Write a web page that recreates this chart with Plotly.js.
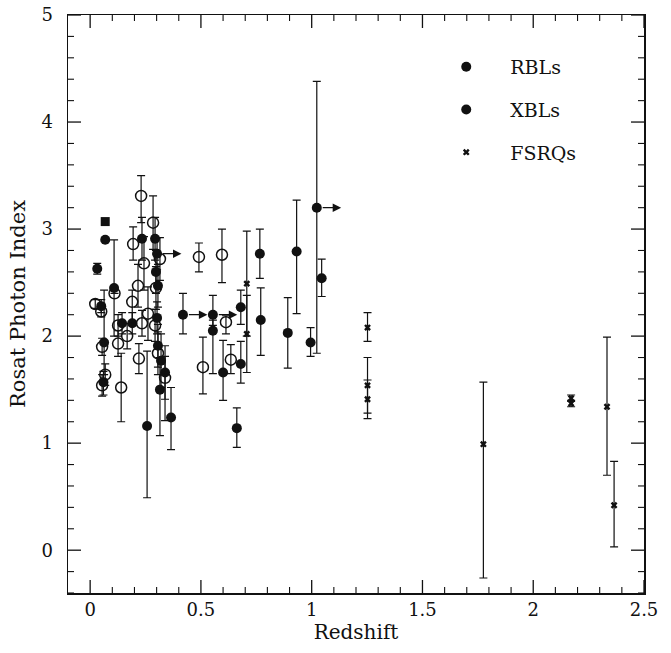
<!DOCTYPE html>
<html>
<head>
<meta charset="utf-8">
<script src="https://cdn.plot.ly/plotly-3.0.1.min.js"></script>
<style>html,body{margin:0;padding:0;background:#fff;}#chart{width:671px;height:653px;}</style>
</head>
<body>
<div id="chart"></div>
<script>
// Filled circles
const filledZ   = [0.032,0.068,0.050,0.063,0.060,0.108,0.144,0.190,0.234,0.257,0.293,0.297,0.302,0.306,0.302,0.306,0.320,0.338,0.315,0.365,0.419,0.554,0.554,0.600,0.662,0.680,0.680,0.766,0.770,0.892,0.932,0.995,1.023,1.045];
const filledY   = [2.63,2.90,2.28,1.94,1.57,2.45,2.12,2.12,2.91,1.16,2.91,2.60,2.77,2.47,2.17,1.91,1.77,1.66,1.50,1.24,2.20,2.20,2.05,1.66,1.14,2.27,1.74,2.77,2.15,2.03,2.79,1.94,3.20,2.54];
const filledEp  = [0.05,null,0.06,0.49,0.10,0.45,0.10,0.10,0.20,0.70,0.20,0.20,0.15,0.20,0.15,0.20,0.25,0.25,0.30,0.28,0.20,0.18,0.10,0.30,0.19,0.16,0.21,0.23,0.30,0.33,0.48,0.14,1.18,0.18];
const filledEm  = [0.05,null,0.06,0.30,0.12,0.45,0.10,0.10,0.20,0.67,0.20,0.20,0.15,0.20,0.15,0.20,0.25,0.45,0.43,0.30,0.18,0.10,0.40,0.26,0.18,0.16,0.18,0.23,0.33,0.33,0.58,0.13,1.36,0.17];
const filledLim = [0,0,0,0,0,0,0,0,0,0,0,0,1,0,0,0,0,0,0,0,1,1,0,0,0,0,0,0,0,0,0,0,1,0];

// Open circles
const openZ  = [0.023,0.050,0.054,0.068,0.054,0.110,0.126,0.126,0.140,0.167,0.190,0.194,0.216,0.220,0.230,0.234,0.243,0.261,0.284,0.293,0.297,0.315,0.306,0.338,0.491,0.509,0.595,0.613,0.635];
const openY  = [2.30,2.23,1.90,1.64,1.54,2.40,2.10,1.93,1.52,2.00,2.32,2.86,2.47,1.79,3.31,2.12,2.68,2.21,3.06,2.10,2.45,2.72,1.84,1.61,2.74,1.71,2.76,2.13,1.78];
const openEp = [0.04,0.05,0.08,0.10,0.10,null,0.10,0.12,0.32,0.12,0.11,0.16,0.20,0.14,0.19,0.12,0.25,0.25,0.25,0.15,0.20,0.20,0.20,0.20,0.13,0.28,0.24,0.06,0.14];
const openEm = [0.04,0.05,0.08,0.10,0.10,null,0.10,0.12,0.32,0.12,0.20,0.15,0.20,0.14,0.25,0.12,0.25,0.25,0.25,0.15,0.20,0.20,0.20,0.20,0.14,0.25,0.26,0.11,0.13];

// FSRQs
const fsrqZ  = [0.707,0.707,1.252,1.252,1.252,1.775,2.171,2.171,2.333,2.365];
const fsrqY  = [2.49,2.02,2.08,1.54,1.41,0.99,1.42,1.37,1.34,0.42];
const fsrqEp = [0.49,0.36,0.14,0.26,0.18,0.58,0.03,0.03,0.65,0.41];
const fsrqEm = [0.49,0.36,0.13,0.26,0.18,1.25,0.03,0.03,0.64,0.39];

// Filled square
const sqZ = [0.068];
const sqY = [3.07];

const legendNames = ['RBLs','XBLs','FSRQs'];

// Axis tick values
const xMajorTicks = [0,0.5,1,1.5,2,2.5];
const xTickLabels = ['0','0.5','1','1.5','2','2.5'];
const yMajorTicks = [0,1,2,3,4,5];
const yTickLabels = ['0','1','2','3','4','5'];
const xMinorStep = 0.1, yMinorStep = 0.2;

const errStyle = (p,m) => ({type:'data', symmetric:false, array:p, arrayminus:m, width:4, thickness:1.2, color:'#111'});
const FONT = 'DejaVu Serif, serif';
const INK = '#111';

const traces = [
  {x:filledZ, y:filledY, mode:'markers', type:'scatter', showlegend:false,
   marker:{symbol:'circle', size:10, color:INK}, error_y:errStyle(filledEp, filledEm)},
  {x:openZ, y:openY, mode:'markers', type:'scatter', showlegend:false,
   marker:{symbol:'circle-open', size:11, color:INK, line:{width:1.5, color:INK}}, error_y:errStyle(openEp, openEm)},
  {x:fsrqZ, y:fsrqY, mode:'markers', type:'scatter', showlegend:false,
   marker:{symbol:'x', size:6, color:INK}, error_y:errStyle(fsrqEp, fsrqEm)},
  {x:sqZ, y:sqY, mode:'markers', type:'scatter', showlegend:false,
   marker:{symbol:'square', size:9, color:INK}},
  // legend entries
  {x:[null], y:[null], mode:'markers', name:legendNames[0], legendgroup:'a', marker:{symbol:'circle', size:10, color:INK}},
  {x:[null], y:[null], mode:'markers', name:legendNames[1], legendgroup:'b', marker:{symbol:'circle', size:10, color:INK}},
  {x:[null], y:[null], mode:'markers', name:legendNames[2], legendgroup:'c', marker:{symbol:'x', size:6, color:INK}}
];

const annotations = [];
filledZ.forEach((z,i) => {
  if (filledLim[i]) {
    annotations.push({x:z+0.11, y:filledY[i], ax:z+0.02, ay:filledY[i], xref:'x', yref:'y', axref:'x', ayref:'y',
      text:'', showarrow:true, arrowhead:2, arrowsize:1.3, arrowwidth:1.3, arrowcolor:INK});
  }
});

// Tick marks (inside, on all four sides) as pixel-sized shapes anchored to axis values
const shapes = [];
const MAJ = 13, MIN = 6;
function xTick(v, len, w) {
  shapes.push({type:'line', xref:'x', yref:'paper', ysizemode:'pixel', yanchor:0, x0:v, x1:v, y0:0, y1:len, line:{color:INK, width:w}});
  shapes.push({type:'line', xref:'x', yref:'paper', ysizemode:'pixel', yanchor:1, x0:v, x1:v, y0:0, y1:-len, line:{color:INK, width:w}});
}
function yTick(v, len, w) {
  shapes.push({type:'line', xref:'paper', yref:'y', xsizemode:'pixel', xanchor:0, y0:v, y1:v, x0:0, x1:len, line:{color:INK, width:w}});
  shapes.push({type:'line', xref:'paper', yref:'y', xsizemode:'pixel', xanchor:1, y0:v, y1:v, x0:0, x1:-len, line:{color:INK, width:w}});
}
xMajorTicks.forEach(v => xTick(v, MAJ, 1.3));
for (let k = 0; k <= 24; k++) { const v = +(k*xMinorStep).toFixed(2); if (k % 5) xTick(v, MIN, 1.1); }
yMajorTicks.forEach(v => yTick(v, MAJ, 1.3));
for (let k = -2; k <= 24; k++) { const v = +(k*yMinorStep).toFixed(2); if (k % 5) yTick(v, MIN, 1.1); }

const layout = {
  width:671, height:653,
  margin:{l:68, r:27, t:15, b:60},
  paper_bgcolor:'#fff', plot_bgcolor:'#fff',
  font:{family:FONT, color:INK},
  xaxis:{
    showgrid:false, zeroline:false, showline:true, linecolor:INK, linewidth:1.5, mirror:true,
    ticks:'', tickfont:{family:FONT, size:18, color:INK},
    range:[-0.1,2.5], tickvals:xMajorTicks, ticktext:xTickLabels,
    title:{text:'Redshift', font:{family:FONT, size:20, color:INK}, standoff:6}
  },
  yaxis:{
    showgrid:false, zeroline:false, showline:true, linecolor:INK, linewidth:1.5, mirror:true,
    ticks:'', tickfont:{family:FONT, size:18, color:INK},
    range:[-0.4,5], tickvals:yMajorTicks, ticktext:yTickLabels,
    ticklabelstandoff:10,
    title:{text:'Rosat Photon Index', font:{family:FONT, size:21, color:INK}, standoff:10}
  },
  showlegend:true,
  legend:{x:0.615, y:0.943, xanchor:'left', yanchor:'top', bgcolor:'rgba(0,0,0,0)',
    font:{family:FONT, size:19, color:INK}, traceorder:'grouped', tracegroupgap:15, itemwidth:78},
  annotations:annotations,
  shapes:shapes
};

Plotly.newPlot('chart', traces, layout, {displayModeBar:false, staticPlot:true});
</script>
</body>
</html>
